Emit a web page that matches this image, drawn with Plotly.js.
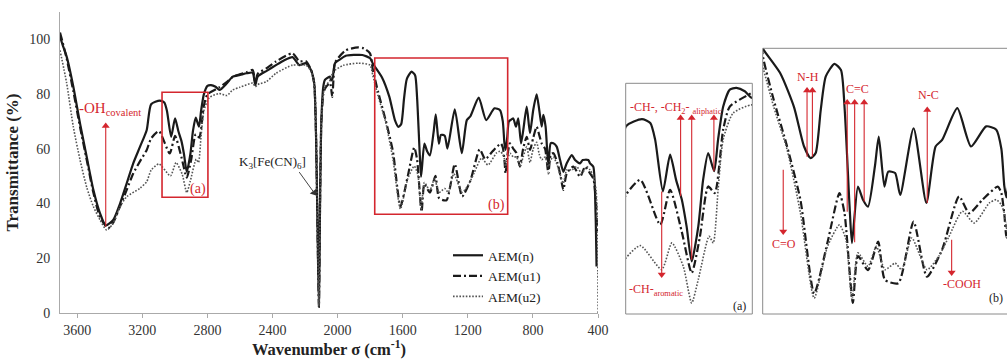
<!DOCTYPE html>
<html>
<head>
<meta charset="utf-8">
<script src="https://cdn.plot.ly/plotly-3.0.1.min.js"></script>
<style>html,body{margin:0;padding:0;background:#fff;}#chart{width:1007px;height:360px;}</style>
</head>
<body>
<div id="chart"></div>
<script>
// ---- Data (wavenumber cm^-1, transmittance %) ----
const wnN = [3706,3690,3665,3624,3583,3542,3501,3460,3425,3379,3337,3296,3256,3214,3173,3146,3093,3065,3049,3023,2999,2979,2960,2944,2927,2905,2889,2872,2852,2839,2822,2800,2778,2750,2726,2680,2645,2600,2559,2522,2506,2491,2436,2379,2330,2277,2236,2195,2164,2144,2133,2123,2115,2108,2100,2088,2078,2060,2047,2040,2032,2016,1990,1950,1900,1848,1800,1784,1728,1682,1648,1626,1609,1592,1575,1546,1524,1512,1495,1487,1467,1450,1433,1410,1397,1378,1365,1342,1325,1280,1237,1206,1184,1133,1087,1036,1002,985,975,968,958,948,938,921,904,890,873,859,838,818,798,777,761,746,736,722,705,691,674,654,633,613,592,561,541,510,494,460,449,429,415,409];
const tN  = [101,98,93.7,82.7,69.3,57.1,45,36.4,32,34,40,47.4,54.7,60.8,66.9,76.3,77.6,76.9,73.9,64.4,71.1,66.5,62.9,58,51.6,58,66.5,71.4,68.1,73.9,79.9,83,83.3,82.7,81.5,84,86.4,87,87.6,87.8,83.3,86.4,88.5,90.6,92.3,93.5,90.6,91.3,88.8,84,65.7,29,2.3,40,70,82.7,85.2,86,86.4,85,85.5,91.3,92.5,94,94.3,94.3,93.1,91.2,86.2,79,70.5,68,69.1,78.3,85.5,88.2,86.9,79,57.6,49.8,61.9,59.1,57.6,66.2,72.6,61.9,65.1,64.8,60.1,74.4,58.4,70.5,71.9,78.7,70.5,74.8,74.1,70,62,59.6,64,70,70.5,71.1,68.1,71.1,62,66.9,75.4,65.7,74.2,79.9,74.2,68.1,72.4,68.1,53.5,62,62,60.8,55.9,51.6,54.7,57.7,55.9,54.7,55.9,55.9,54.7,53.5,36.4,17];

const wnU1 = [3706,3690,3665,3624,3583,3542,3501,3460,3410,3379,3337,3296,3256,3214,3173,3146,3098,3032,2999,2960,2927,2900,2872,2850,2822,2800,2728,2680,2641,2559,2522,2506,2491,2436,2379,2277,2236,2195,2164,2144,2133,2123,2115,2108,2100,2088,2078,2047,2033,2025,2016,1950,1873,1840,1801,1784,1750,1705,1660,1614,1569,1529,1512,1484,1467,1433,1399,1376,1331,1280,1235,1184,1127,1093,1048,997,985,975,968,958,941,920,900,880,860,838,818,798,777,761,746,725,705,690,674,650,630,613,592,551,510,479,449,428,412,405];
const tU1  = [102.5,99,93,81,68,56,44,35,31,33,39,45,51,55.5,59.6,63.8,66.5,58.3,64.7,57,49.5,56,65.3,64.1,75.7,79.9,82.4,84.5,86.4,88,88.8,84.5,87.4,89.5,91.9,94.9,92,92,89,84,66,29,2.3,40,70,80,82,84,79,86,91.5,96,97.1,96.7,94.9,89,80.5,70.5,59,39,50,60.5,56.2,37,47,44,50.1,41.9,41.2,54.4,42.6,48.4,59.8,56.2,59.1,61.9,60.5,56,51,57,62,60,58.4,53.5,60,64.4,59.6,64,68.1,65,62,60,51,58,58.4,55,50,45,51,53.5,49.8,53.5,51,49,40,30];

const wnU2 = [3706,3665,3624,3583,3542,3501,3460,3419,3379,3337,3296,3214,3173,3146,3098,3027,2993,2955,2927,2905,2869,2855,2839,2822,2789,2728,2680,2645,2600,2522,2506,2491,2436,2379,2277,2236,2195,2164,2144,2133,2123,2115,2108,2100,2088,2078,2047,2027,1965,1873,1801,1784,1750,1705,1660,1614,1569,1529,1507,1487,1467,1433,1405,1376,1342,1320,1286,1235,1195,1161,1116,1076,1025,1002,985,975,968,958,941,920,900,880,860,838,818,798,777,761,746,725,705,690,674,650,630,613,592,560,531,500,469,449,428,412,405,401,399];
const tU2  = [96,84,68,56,46,38.9,34,30.3,32.8,38.9,42.5,45.6,48,52.2,54.5,50.1,55,50.7,44,48.3,56.2,55,64.7,73.9,78.7,80.2,79.5,81.5,82.5,84,82.7,83.5,84.6,87.6,90.6,90.6,90.6,88.5,84,65.7,29,2.3,40,70,80,82.7,85,88.2,90.5,91.3,90.6,86.9,79,69.8,56.2,38,49.1,53.7,50.5,37.7,47.7,44.8,49.1,44.1,45.5,44.1,50.9,44.1,47,51.2,56.6,54.1,58.4,59.1,58,56.2,53,56,58.4,57,57,53.5,57,60.8,55,60,62.4,58,56,57,53.5,56,57,54,50,47.4,52.3,52.3,53.5,51,53.5,52.3,50,45,35,15,0];

const seriesNames = ['AEM(n)','AEM(u1)','AEM(u2)'];
const xTicks = [3600,3200,2800,2400,2000,1600,1200,800,400];
const yTicks = [0,20,40,60,80,100];

// ---- helpers (pixel -> paper) ----
const W = 1007, H = 360;
const PX = x => x / W;
const PY = y => 1 - y / H;
const RED = '#d4262e';
const SERIF = 'Liberation Serif, Times New Roman, serif';

const styles = [
  {color:'#1a1a1a', width:2.2, dash:'solid'},
  {color:'#1a1a1a', width:2.2, dash:'8px,3px,2px,3px'},
  {color:'#555555', width:1.6, dash:'1.6px,1.6px'}
];
const xs = [wnN, wnU1, wnU2], ys = [tN, tU1, tU2];

const traces = [];
['', '2', '3'].forEach((ax, k) => {
  for (let i = 0; i < 3; i++) {
    traces.push({
      type:'scatter', mode:'lines', x: xs[i], y: ys[i], name: seriesNames[i],
      xaxis: 'x' + ax, yaxis: 'y' + ax, showlegend: k === 0,
      line: Object.assign({shape:'spline', smoothing:0.6}, styles[i]),
      hoverinfo:'skip'
    });
  }
});

const hidden = {showgrid:false, zeroline:false, showticklabels:false, showline:false, ticks:'', fixedrange:true};

const shapes = [
  {type:'rect', xref:'x', yref:'y', x0:3079, x1:2797, y0:42.3, y1:80.7, line:{color:RED, width:1.6}},
  {type:'rect', xref:'x', yref:'y', x0:1772, x1:955, y0:36.1, y1:93.2, line:{color:RED, width:1.6}},
  {type:'rect', xref:'paper', yref:'paper', x0:PX(625.7), x1:PX(752.3), y0:PY(314), y1:PY(83.3), line:{color:'#8a8a8a', width:1}},
  {type:'rect', xref:'paper', yref:'paper', x0:PX(762.7), x1:PX(1012), y0:PY(314), y1:PY(48.3), line:{color:'#8a8a8a', width:1}}
];
const annotations = [];

function txt(xref, yref, x, y, text, size, color, extra) {
  annotations.push(Object.assign({xref, yref, x, y, text, showarrow:false, font:{family:SERIF, size, color}}, extra||{}));
}
// arrow = line shape + triangle marker head; off = head offset in data units
const heads = {'': {x:[],y:[],s:[],a:[],c:[]}, '2': {x:[],y:[],s:[],a:[],c:[]}, '3': {x:[],y:[],s:[],a:[],c:[]}};
function arr(ax, x, y0, y1, off) {
  const up = y1 > y0;
  shapes.push({type:'line', xref:'x'+ax, yref:'y'+ax, x0:x, x1:x, y0:y0, y1:up ? y1 - off : y1 + off, line:{color:RED, width:1.1}});
  const h = heads[ax];
  h.x.push(x); h.y.push(up ? y1 - off : y1 + off); h.s.push(up ? 'triangle-up' : 'triangle-down'); h.a.push(0); h.c.push(RED);
}
// main annotations
txt('x','y', 3399, 74.5, '-OH<sub>covalent</sub>', 15, RED);
arr('', 3425, 31.5, 69.5, 1.2);
txt('x','y', 2856, 45.2, '(a)', 14, RED);
txt('x','y', 1023, 39.6, '(b)', 14, RED);
txt('x','y', 2400, 55, 'K<sub>3</sub>[Fe(CN)<sub>6</sub>]', 13, '#222');
shapes.push({type:'line', xref:'x', yref:'y', x0:2236, y0:51.5, x1:2145, y1:44, line:{color:'#444', width:1}});
heads[''].x.push(2145); heads[''].y.push(44); heads[''].s.push('triangle-up'); heads[''].a.push(144); heads[''].c.push('#333');
// inset (a)
txt('x2','y2', 2979, 79.6, '-CH-, -CH<sub>2</sub>- <sub>aliphatic</sub>', 12, RED);
arr('2', 2964, 63.5, 78.4, 0.6);
arr('2', 2927, 51.9, 78.4, 0.6);
arr('2', 2853, 68.1, 78.4, 0.6);
arr('2', 3027, 64.4, 48.6, 0.6);
txt('x2','y2', 3046, 46.3, '-CH-<sub>aromatic</sub>', 12, RED);
txt('x2','y2', 2767, 43.5, '(a)', 12, '#222');
// inset (b)
txt('x3','y3', 1634, 85.3, 'N-H', 12, RED);
arr('3', 1638, 68.3, 83.2, 0.7);
arr('3', 1620, 68.3, 83.2, 0.7);
txt('x3','y3', 1470, 82.8, 'C=C', 12, RED);
arr('3', 1503, 56.5, 80.6, 0.7);
arr('3', 1478, 50.0, 80.6, 0.7);
arr('3', 1446, 58.7, 80.6, 0.7);
txt('x3','y3', 1231, 81.5, 'N-C', 12, RED);
arr('3', 1234, 58.4, 79.0, 0.7);
txt('x3','y3', 1716, 49.6, 'C=O', 12, RED);
arr('3', 1718, 65.5, 51.6, 0.7);
txt('x3','y3', 1118, 41.0, '-COOH', 12, RED);
arr('3', 1152, 50.5, 42.8, 0.7);
txt('paper','paper', PX(1005), PY(306.5), '(b)', 12, '#222', {xanchor:'right'});

Object.keys(heads).forEach(ax => {
  const h = heads[ax];
  traces.push({type:'scatter', mode:'markers', x:h.x, y:h.y, xaxis:'x'+ax, yaxis:'y'+ax, showlegend:false,
    cliponaxis:false, hoverinfo:'skip',
    marker:{symbol:h.s, angle:h.a, size:7, color:h.c, line:{width:0}}});
});

const layout = {
  width: W, height: H,
  margin: {l:0, r:0, t:0, b:0},
  paper_bgcolor:'#fff', plot_bgcolor:'rgba(0,0,0,0)',
  font: {family: SERIF, color:'#222'},
  showlegend: true,
  legend: {x: PX(448), y: PY(240), xanchor:'left', yanchor:'top', bgcolor:'rgba(0,0,0,0)',
           font:{family:SERIF, size:13.5, color:'#222'}, tracegroupgap:0, itemwidth:30},
  xaxis: {domain:[PX(60), PX(598)], range:[3706, 400], tickvals:xTicks, ticktext:xTicks.map(String),
          ticks:'outside', ticklen:4, tickcolor:'#aaa', showline:true, linecolor:'#aaa', linewidth:1,
          showgrid:false, zeroline:false, anchor:'y',
          tickfont:{family:SERIF, size:14, color:'#333'},
          title:{text:'<b>Wavenumber σ (cm<sup>-1</sup>)</b>', font:{family:SERIF, size:16.5, color:'#222'}, standoff:6}},
  yaxis: {domain:[PY(313), PY(12)], range:[0, 110], tickvals:yTicks, ticktext:yTicks.map(String),
          ticks:'', ticklabelstandoff:6, showline:true, linecolor:'#aaa', linewidth:1, showgrid:false, zeroline:false, anchor:'x',
          tickfont:{family:SERIF, size:14, color:'#333'},
          title:{text:'<b>Transmittance (%)</b>', font:{family:SERIF, size:17, color:'#222'}, standoff:6}},
  xaxis2: Object.assign({domain:[PX(626), PX(752)], range:[3146, 2726], anchor:'y2'}, hidden),
  yaxis2: Object.assign({domain:[PY(314), PY(83)], range:[42.0, 84.2], anchor:'x2'}, hidden),
  xaxis3: Object.assign({domain:[PX(763), 1], range:[1786, 966], anchor:'y3'}, hidden),
  yaxis3: Object.assign({domain:[PY(314), PY(48)], range:[34.6, 91.6], anchor:'x3'}, hidden),
  shapes: shapes,
  annotations: annotations
};

Plotly.newPlot('chart', traces, layout, {staticPlot:true, displayModeBar:false});
</script>
</body>
</html>
